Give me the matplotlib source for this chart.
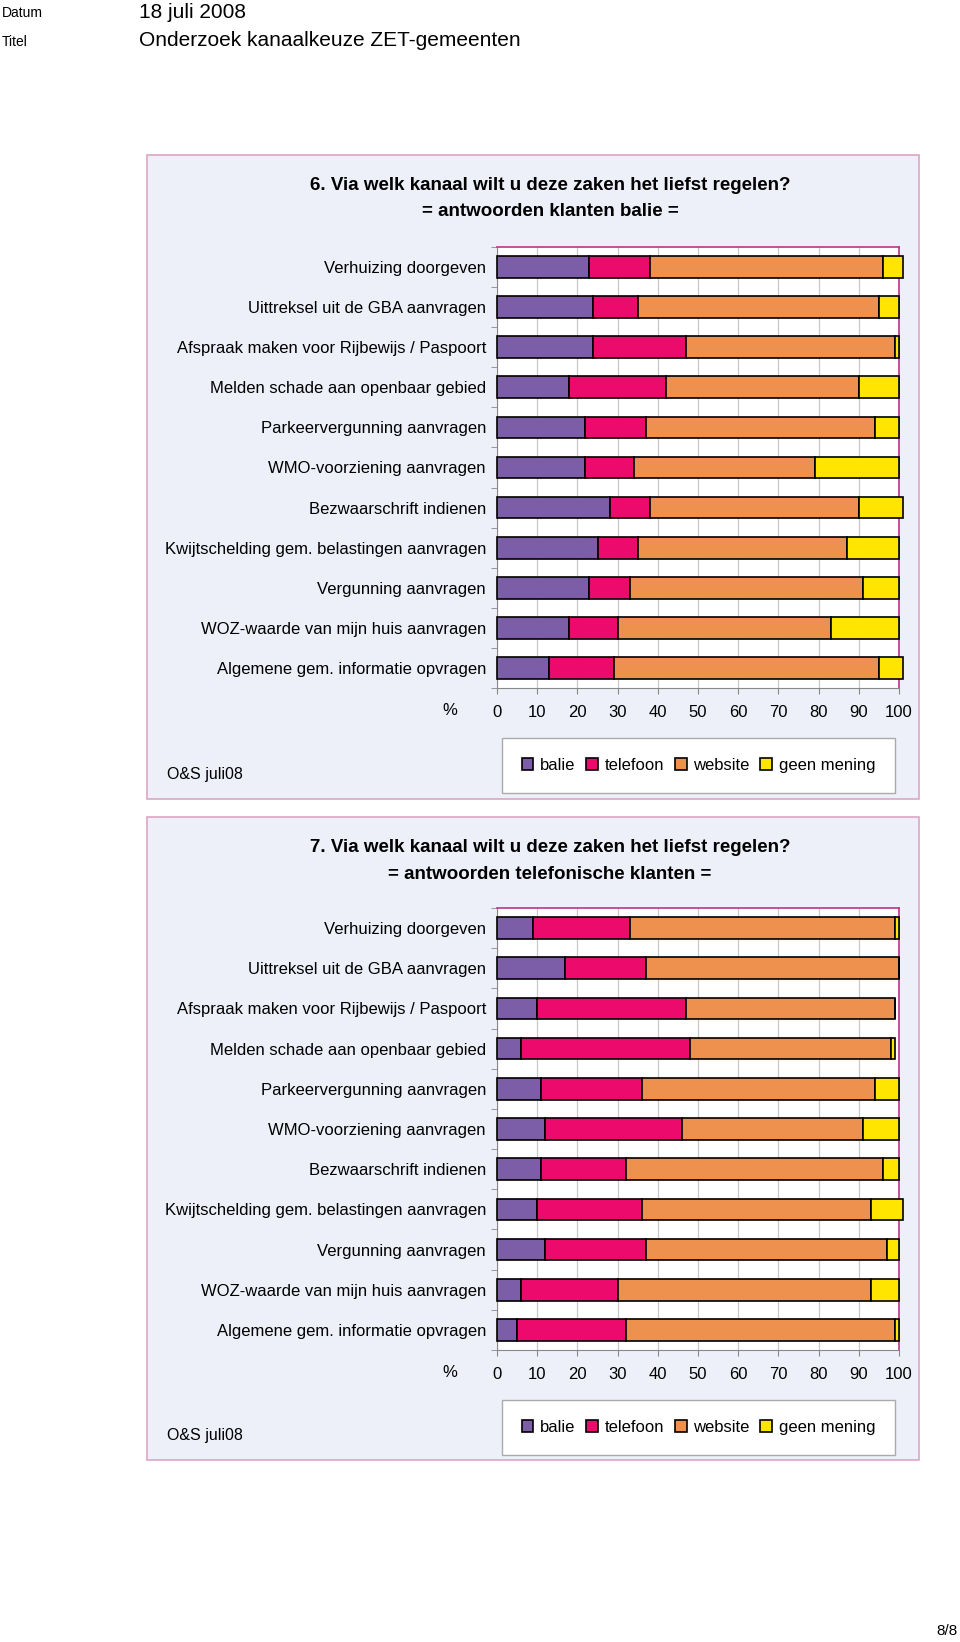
import numpy as np
import matplotlib
matplotlib.use('Agg')
import matplotlib.pyplot as plt
import matplotlib.patches as mpatches

plt.rcParams.update({
    'font.family': ['Liberation Sans', 'DejaVu Sans'],
    'font.size': 11.5,
})

W, H = 960, 1642

PURPLE = '#7B5EA7'
PINK   = '#EC0A6C'
ORANGE = '#EE914F'
YELLOW = '#FFE500'
PANEL_BG = '#EEF0F9'
PANEL_EDGE = '#DDA5C5'
PLOT_EDGE = '#B8378A'

categories = [
    'Verhuizing doorgeven',
    'Uittreksel uit de GBA aanvragen',
    'Afspraak maken voor Rijbewijs / Paspoort',
    'Melden schade aan openbaar gebied',
    'Parkeervergunning aanvragen',
    'WMO-voorziening aanvragen',
    'Bezwaarschrift indienen',
    'Kwijtschelding gem. belastingen aanvragen',
    'Vergunning aanvragen',
    'WOZ-waarde van mijn huis aanvragen',
    'Algemene gem. informatie opvragen',
]
series_names = ['balie', 'telefoon', 'website', 'geen mening']
colors = [PURPLE, PINK, ORANGE, YELLOW]

# vraag 6: klanten balie
balie_balie    = [23, 24, 24, 18, 22, 22, 28, 25, 23, 18, 13]
balie_telefoon = [15, 11, 23, 24, 15, 12, 10, 10, 10, 12, 16]
balie_website  = [58, 60, 52, 48, 57, 45, 52, 52, 58, 53, 66]
balie_geen     = [5, 5, 1, 10, 6, 21, 11, 13, 9, 17, 6]

# vraag 7: telefonische klanten
tel_balie    = [9, 17, 10, 6, 11, 12, 11, 10, 12, 6, 5]
tel_telefoon = [24, 20, 37, 42, 25, 34, 21, 26, 25, 24, 27]
tel_website  = [66, 63, 52, 50, 58, 45, 64, 57, 60, 63, 67]
tel_geen     = [1, 0, 0, 1, 6, 9, 4, 8, 3, 7, 1]

xticks = [0, 10, 20, 30, 40, 50, 60, 70, 80, 90, 100]


def frac(x0, y0, x1, y1):
    return [x0 / W, 1 - y1 / H, (x1 - x0) / W, (y1 - y0) / H]


fig = plt.figure(figsize=(W / 100, H / 100), dpi=100)
fig.patch.set_facecolor('white')

# header
fig.text(2 / W, 1 - 13 / H, 'Datum', fontsize=10, va='center')
fig.text(139 / W, 1 - 12 / H, '18 juli 2008', fontsize=15, va='center')
fig.text(2 / W, 1 - 42 / H, 'Titel', fontsize=10, va='center')
fig.text(139 / W, 1 - 41 / H, 'Onderzoek kanaalkeuze ZET-gemeenten', fontsize=15, va='center')
fig.text(958 / W, 1 - 1631 / H, '8/8', fontsize=11, ha='right', va='center')


def panel(top, bottom, plot_top, plot_bottom, title1, title2, data):
    x0, x1 = 147, 919
    fig.patches.append(mpatches.Rectangle((x0 / W, 1 - bottom / H), (x1 - x0) / W,
                                          (bottom - top) / H, transform=fig.transFigure,
                                          facecolor=PANEL_BG, edgecolor=PANEL_EDGE,
                                          lw=1.2, zorder=-10))
    fig.text(550 / W, 1 - (top + 30) / H, title1, fontsize=13.5, fontweight='bold',
             ha='center', va='center')
    fig.text(550 / W, 1 - (top + 57) / H, title2, fontsize=13.5, fontweight='bold',
             ha='center', va='center')

    ax = fig.add_axes(frac(497, plot_top, 899, plot_bottom))
    ax.set_facecolor('white')
    y = np.arange(len(categories))
    left = np.zeros(len(categories))
    for vals, c, name in zip(data, colors, series_names):
        ax.barh(y, vals, left=left, height=0.54, color=c, edgecolor='black',
                lw=1.2, label=name, clip_on=False, zorder=3)
        left += np.array(vals)
    ax.set_xlim(0, 100)
    ax.set_ylim(len(categories) - 0.5, -0.5)
    ax.set_xticks(xticks)
    ax.set_xticklabels([str(t) for t in xticks], fontsize=12)
    ax.tick_params(axis='x', length=4, pad=8, color='#888888')
    ax.set_yticks(y)
    ax.set_yticklabels(categories, fontsize=12)
    ax.tick_params(axis='y', length=0, pad=8)
    ax.set_yticks(np.arange(len(categories) + 1) - 0.5, minor=True)
    ax.tick_params(axis='y', which='minor', length=4, color='#888888')
    ax.grid(axis='x', color='#C8C8C8', lw=0.9, zorder=0)
    ax.set_axisbelow(True)
    for s in ['top', 'right']:
        ax.spines[s].set_color(PLOT_EDGE)
        ax.spines[s].set_linewidth(1.2)
    for s in ['left', 'bottom']:
        ax.spines[s].set_color('#888888')
    fig.text(450 / W, 1 - (plot_bottom + 22) / H, '%', fontsize=12, ha='center', va='center')

    fig.text(167 / W, 1 - (bottom - 25) / H, 'O&S juli08', fontsize=11.5, va='center')
    handles = [mpatches.Patch(facecolor=c, edgecolor='black', lw=1.2) for c in colors]
    leg = ax.legend(handles, series_names, ncol=4, loc='center',
                    bbox_to_anchor=((501 + 896) / 2 / W, 1 - (plot_bottom + 77) / H),
                    bbox_transform=fig.transFigure, frameon=True, fancybox=False,
                    framealpha=1, facecolor='white',
                    edgecolor='#AAAAAA', fontsize=12, handlelength=0.7, handleheight=0.7,
                    handletextpad=0.4, columnspacing=0.65, borderpad=1.2,
                    borderaxespad=0)
    leg.get_frame().set_linewidth(1.0)


panel(155, 799, 247, 688,
      '6. Via welk kanaal wilt u deze zaken het liefst regelen?',
      '= antwoorden klanten balie =',
      [balie_balie, balie_telefoon, balie_website, balie_geen])

panel(817, 1460, 908, 1350,
      '7. Via welk kanaal wilt u deze zaken het liefst regelen?',
      '= antwoorden telefonische klanten =',
      [tel_balie, tel_telefoon, tel_website, tel_geen])

fig.savefig('out.png', dpi=100)
